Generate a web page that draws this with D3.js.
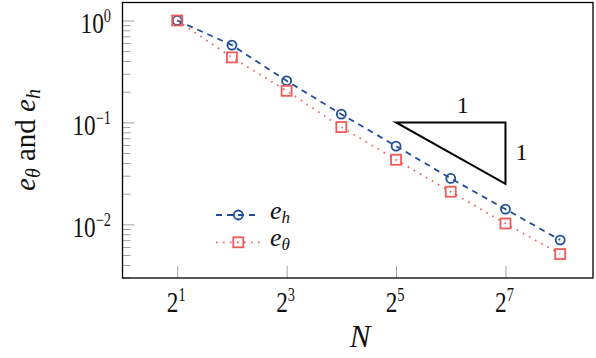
<!DOCTYPE html>
<html><head><meta charset="utf-8">
<script src="https://cdn.jsdelivr.net/npm/d3@7"></script>
<style>body{margin:0;background:#fff}svg{display:block}</style>
</head><body>
<script>
const N = [2, 4, 8, 16, 32, 64, 128, 256];
const eH = [1.0, 0.573, 0.256, 0.1205, 0.0586, 0.0282, 0.0141, 0.00702];
const eTheta = [1.0, 0.434, 0.204, 0.090, 0.043, 0.0209, 0.0102, 0.00512];
const xTickExps = [1, 3, 5, 7];
const yTickExps = [0, -1, -2];
const triX = [32, 128, 128];
const triY = [0.1, 0.1, 0.025];

const W = 596, H = 358;
const L = 122.5, R = 593, T = 2.5, B = 278;
const FONT = "Liberation Serif";
const blue = "#1f4d99", red = "#f05a5a";

const svg = d3.select("body").append("svg").attr("width", W).attr("height", H);
svg.append("rect").attr("width", W).attr("height", H).attr("fill", "#fff");

const x = d3.scaleLog().base(2).domain([1, Math.pow(2, 8.6)]).range([L, R]);
const y = d3.scaleLog().domain([Math.pow(10, -2.526), Math.pow(10, 0.176)]).range([B, T]);

// y ticks (major + minor), left side only
const yMinor = [];
for (let k = -3; k <= 0; k++) for (let m = 2; m <= 9; m++) {
  const v = m * Math.pow(10, k);
  if (v > y.domain()[0] && v < y.domain()[1]) yMinor.push(v);
}
const yAxisMinor = d3.axisRight(y).tickValues(yMinor).tickSize(8).tickFormat("");
const yAxisMajor = d3.axisRight(y).tickValues(yTickExps.map(e => Math.pow(10, e))).tickSize(12).tickFormat("");
[yAxisMinor, yAxisMajor].forEach(ax => {
  const g = svg.append("g").attr("transform", `translate(${L},0)`).call(ax);
  g.select(".domain").remove();
  g.selectAll("line").attr("stroke", "#a0a0a0").attr("stroke-width", 1);
});
const xAxis = d3.axisTop(x).tickValues(xTickExps.map(e => Math.pow(2, e))).tickSize(12).tickFormat("");
const gx = svg.append("g").attr("transform", `translate(0,${B})`).call(xAxis);
gx.select(".domain").remove();
gx.selectAll("line").attr("stroke", "#a0a0a0").attr("stroke-width", 1);

// helper for base^sup labels
function powLabel(px, py, base, sup, anchor) {
  const g = svg.append("g").attr("transform", `translate(${px},${py}) scale(0.8,1.0)`);
  const t = g.append("text").attr("font-family", FONT).attr("font-size", 29)
    .attr("text-anchor", anchor).attr("fill", "#111");
  t.append("tspan").text(base);
  t.append("tspan").attr("font-size", 18).attr("dy", -11).text(sup);
}
xTickExps.forEach(e => powLabel(x(Math.pow(2, e)) - 1, 311.5, "2", String(e), "middle"));
yTickExps.forEach(e => powLabel(111, y(Math.pow(10, e)) + 12.5, "10", e < 0 ? "\u2212" + (-e) : String(e), "end"));

// series lines
const line = d3.line().x(d => x(d[0])).y(d => y(d[1]));
svg.append("path").datum(N.map((n, i) => [n, eH[i]])).attr("d", line)
  .attr("fill", "none").attr("stroke", blue).attr("stroke-width", 1.8).attr("stroke-dasharray", "6,5");
svg.selectAll(".mh").data(N.map((n, i) => [n, eH[i]])).enter().append("circle")
  .attr("cx", d => x(d[0])).attr("cy", d => y(d[1])).attr("r", 4.5)
  .attr("fill", "none").attr("stroke", blue).attr("stroke-width", 1.8);

svg.append("path").datum(N.map((n, i) => [n, eTheta[i]])).attr("d", line)
  .attr("fill", "none").attr("stroke", red).attr("stroke-width", 1.7).attr("stroke-dasharray", "1.6,5.4");
svg.selectAll(".mt").data(N.map((n, i) => [n, eTheta[i]])).enter().append("rect")
  .attr("x", d => x(d[0]) - 5).attr("y", d => y(d[1]) - 5).attr("width", 10).attr("height", 10)
  .attr("fill", "none").attr("stroke", red).attr("stroke-width", 1.8);

// slope triangle
svg.append("path").datum(triX.map((v, i) => [v, triY[i]]))
  .attr("d", d => line(d) + "Z").attr("fill", "none").attr("stroke", "#000").attr("stroke-width", 2);
const midX = Math.sqrt(triX[0] * triX[1]);
const midY = Math.sqrt(triY[1] * triY[2]);
svg.append("text").attr("x", x(midX) + 12).attr("y", y(triY[0]) - 9.5).attr("text-anchor", "middle")
  .attr("font-family", FONT).attr("font-size", 24).attr("fill", "#111").text("1");
svg.append("text").attr("x", x(triX[1]) + 16).attr("y", y(midY) + 7).attr("text-anchor", "middle")
  .attr("font-family", FONT).attr("font-size", 24).attr("fill", "#111").text("1");

// frame
svg.append("rect").attr("x", L).attr("y", T).attr("width", R - L).attr("height", B - T)
  .attr("fill", "none").attr("stroke", "#000").attr("stroke-width", 1.3);

// legend
const lg = svg.append("g");
lg.append("line").attr("x1", 216).attr("x2", 257).attr("y1", 215).attr("y2", 215)
  .attr("stroke", blue).attr("stroke-width", 1.8).attr("stroke-dasharray", "6,5");
lg.append("circle").attr("cx", 238.3).attr("cy", 215).attr("r", 4.5).attr("fill", "none").attr("stroke", blue).attr("stroke-width", 1.8);
lg.append("line").attr("x1", 216).attr("x2", 263).attr("y1", 242.3).attr("y2", 242.3)
  .attr("stroke", red).attr("stroke-width", 1.7).attr("stroke-dasharray", "1.6,5.4");
lg.append("rect").attr("x", 233.3).attr("y", 237.3).attr("width", 10).attr("height", 10).attr("fill", "none").attr("stroke", red).attr("stroke-width", 1.8);
function mathText(px, py, size, anchor, rot) {
  return svg.append("text").attr("font-family", FONT).attr("font-size", size).attr("fill", "#111")
    .attr("text-anchor", anchor || "start")
    .attr("transform", `translate(${px},${py})` + (rot ? ` rotate(${rot})` : ""));
}
[["h", 219], ["\u03b8", 245.5]].forEach(([s, by]) => {
  const t = mathText(270, by, 26);
  t.append("tspan").attr("font-style", "italic").text("e");
  t.append("tspan").attr("font-style", "italic").attr("font-size", 17).attr("dy", 4).text(s);
});

// axis labels
mathText(360, 346.5, 31, "middle").attr("font-style", "italic").text("N");
const yl = mathText(35, 140, 29, "middle", -90);
yl.append("tspan").attr("font-style", "italic").text("e");
yl.append("tspan").attr("font-style", "italic").attr("font-size", 20).attr("dy", 5).text("\u03b8");
yl.append("tspan").attr("dy", -5).text(" and ");
yl.append("tspan").attr("font-style", "italic").text("e");
yl.append("tspan").attr("font-style", "italic").attr("font-size", 20).attr("dy", 5).text("h");
</script>
</body></html>
